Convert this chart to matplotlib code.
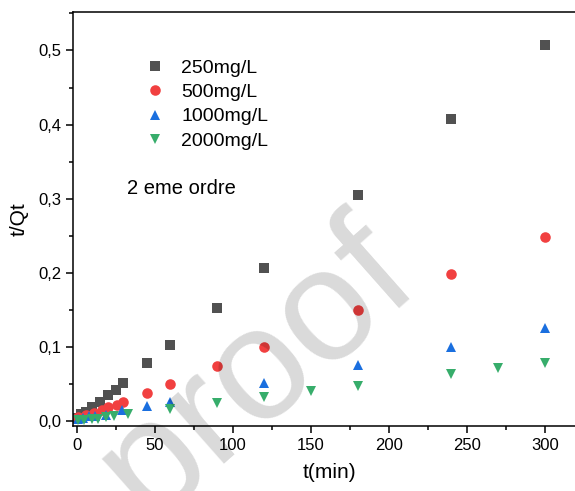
import matplotlib
matplotlib.use('Agg')
import matplotlib.pyplot as plt
from matplotlib.ticker import MultipleLocator, FuncFormatter

plt.rcParams['font.family'] = ['Liberation Sans', 'DejaVu Sans']

# data
t_250 = [1, 3, 6, 10, 15, 20, 25, 30, 45, 60, 90, 120, 180, 240, 300]
y_250 = [0.004, 0.009, 0.012, 0.018, 0.026, 0.035, 0.042, 0.051, 0.078, 0.102, 0.152, 0.206, 0.305, 0.407, 0.508]

t_500 = [1, 6, 11, 16, 20, 26, 30, 45, 60, 90, 120, 180, 240, 300]
y_500 = [0.005, 0.008, 0.011, 0.015, 0.018, 0.022, 0.025, 0.037, 0.050, 0.074, 0.100, 0.150, 0.198, 0.248]

t_1000 = [1, 4, 8, 12, 19, 29, 45, 60, 120, 180, 240, 300]
y_1000 = [0.003, 0.004, 0.006, 0.007, 0.008, 0.014, 0.020, 0.026, 0.051, 0.075, 0.100, 0.125]

t_2000 = [1, 5, 10, 14, 19, 24, 33, 60, 90, 120, 150, 180, 240, 270, 300]
y_2000 = [0.001, 0.001, 0.002, 0.003, 0.005, 0.007, 0.009, 0.016, 0.024, 0.032, 0.040, 0.047, 0.063, 0.071, 0.078]

labels = ['250mg/L', '500mg/L', '1000mg/L', '2000mg/L']
colors = ['#515151', '#F14040', '#1A6FDF', '#37AD6B']
markers = ['s', 'o', '^', 'v']

fig = plt.figure(figsize=(5.75, 4.91), dpi=100)
ax = fig.add_axes([0.127, 0.1324, 0.875, 0.8432])

series = [(t_250, y_250), (t_500, y_500), (t_1000, y_1000), (t_2000, y_2000)]
for (t, y), lab, c, m in zip(series, labels, colors, markers):
    ax.plot(t, y, linestyle='none', marker=m, markersize=7.6, color=c,
            markeredgewidth=0, label=lab, clip_on=False)

ax.set_xlim(-2.3, 320)
ax.set_ylim(-0.007, 0.552)

ax.spines['right'].set_visible(False)
for s in ['left', 'bottom', 'top']:
    ax.spines[s].set_linewidth(1.1)

ax.xaxis.set_major_locator(MultipleLocator(50))
ax.xaxis.set_minor_locator(MultipleLocator(25))
ax.yaxis.set_major_locator(MultipleLocator(0.1))
ax.yaxis.set_minor_locator(MultipleLocator(0.05))
ax.yaxis.set_major_formatter(FuncFormatter(lambda v, p: ('%.1f' % v).replace('.', ',')))
ax.tick_params(which='major', direction='out', length=5, width=1.1, labelsize=12)
ax.tick_params(which='minor', direction='out', length=3, width=1.1)

ax.set_xlabel('t(min)', fontsize=15)
ax.set_ylabel('t/Qt', fontsize=15)
ax.xaxis.set_label_coords((329 - 73) / (0.875 * 575), -(473 - 426) / (0.8432 * 491), transform=ax.transAxes)
ax.yaxis.set_label_coords(-(73 - 19) / (0.875 * 575), 0.5, transform=ax.transAxes)
ax.xaxis.label.set_va('center')
ax.yaxis.label.set_va('center')

ax.text(32.5, 0.314, '2 eme ordre', fontsize=14.5, va='center', ha='left')

ax.legend(loc='upper left', bbox_to_anchor=(0.252, 0.879), bbox_transform=fig.transFigure,
          frameon=False, fontsize=14, handlelength=1.0, handletextpad=0.86,
          borderpad=0, borderaxespad=0, labelspacing=0.34, markerscale=1.0)

# watermark
fig.text(148 / 575, 1 - 522 / 491, 'proof', fontsize=115, rotation=41.5,
         ha='left', va='baseline', rotation_mode='anchor',
         color='black', alpha=0.15, zorder=10)

fig.savefig('out.png', dpi=100)
